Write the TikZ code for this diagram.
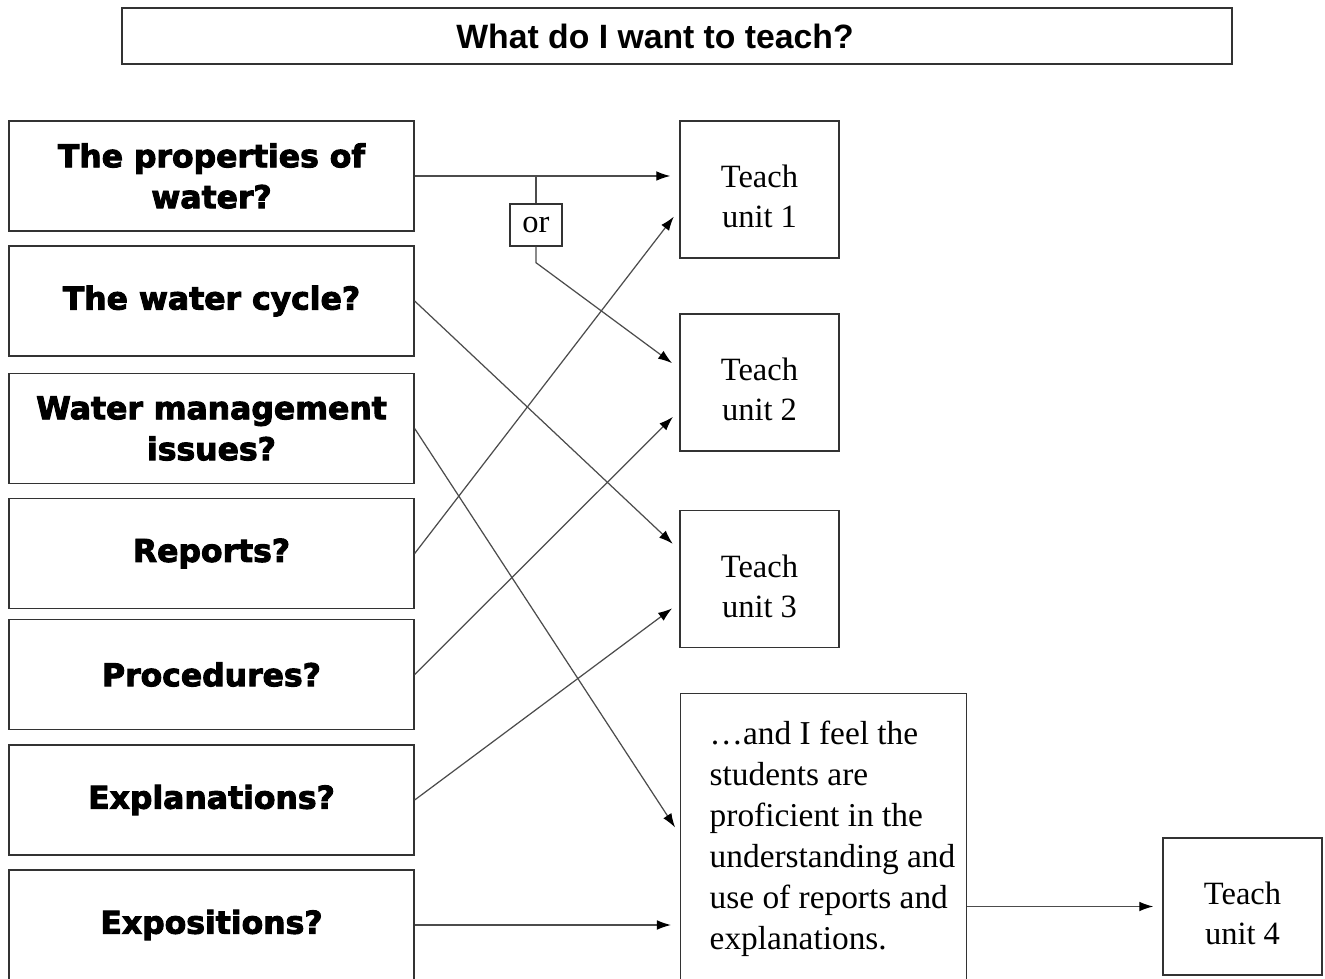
\documentclass[tikz,border=0pt]{standalone}
\usepackage{fontspec}
\setmainfont{Liberation Serif}
\newfontfamily\headfont{Liberation Sans}
\newfontfamily\heavyfont[BoldFeatures={FakeBold=3}]{DejaVu Sans}
\newcommand\tallline{\rule{0pt}{21pt}}
\usetikzlibrary{arrows.meta,calc}

\begin{document}
\begin{tikzpicture}[x=0.02cm,y=-0.02cm,>={Latex[length=8pt,width=5.5pt,black]},
  box/.style={draw=black!80,line width=0.8pt,inner sep=0pt},
  topic/.style={box,minimum width=8.1cm,minimum height=2.2cm,align=center,
    font=\heavyfont\bfseries\fontsize{17.9}{23.3}\selectfont},
  unit/.style={box,minimum width=3.18cm,minimum height=2.74cm,align=center,
    font=\fontsize{18.5}{22.8}\selectfont},
  link/.style={->,draw=black!70,line width=0.7pt,shorten >=0.18cm}]
\useasboundingbox (0,0) rectangle (1325,979);

\node[box,minimum width=22.2cm,minimum height=1.12cm,
  font=\headfont\bfseries\fontsize{19.2}{22}\selectfont](title) at (677,36) {What do I want to teach?\hspace*{0.88cm}};

\node[topic](b1) at (211.5,176) {The properties of\\water?};
\node[topic](b2) at (211.5,301) {The water cycle?};
\node[topic](b3) at (211.5,428.5) {Water management\\issues?};
\node[topic](b4) at (211.5,553.5) {Reports?};
\node[topic](b5) at (211.5,674.5) {Procedures?};
\node[topic](b6) at (211.5,800) {Explanations?};
\node[topic](b7) at (211.5,925) {Expositions?};

\node[unit](u1) at (759.5,189.5) {\tallline Teach\\unit 1};
\node[unit](u2) at (759.5,382.5) {\tallline Teach\\unit 2};
\node[unit](u3) at (759.5,579) {\tallline Teach\\unit 3};
\node[unit](u4) at (1242.5,906.5) {\tallline Teach\\unit 4};

\node[box,anchor=north west,inner xsep=0pt,inner ysep=0.55cm,
  text width=5.72cm,text depth=4.5cm,align=flush left,
  execute at begin node={\leftskip=0.58cm},
  font=\fontsize{19}{23.3}\selectfont](prof) at (680,693)
  {…and I feel the\\students are\\proficient in the\\understanding and\\use of reports and\\explanations.};

\node[box,minimum width=1.04cm,minimum height=0.84cm,
  font=\fontsize{18.5}{22}\selectfont](or) at (536,225) {or};
\coordinate (split) at (b1.east -| or.north);
\coordinate (bend) at ($(or.south)+(0,16)$);

\draw[link] (b1.east) -- (b1.east -| u1.west);
\draw[draw=black!70,line width=0.7pt] (split) -- (or.north);
\draw[link] (or.south) -- (bend) -- ($(u2.west)+(0,-14)$);
\draw[link] (b2.east) -- ($(u3.west)+(0,-29)$);
\draw[link] (b3.east) -- ($(prof.north west)+(0,142)$);
\draw[link] (b4.east) -- ($(u1.west)+(0,20)$);
\draw[link] (b5.east) -- ($(u2.west)+(0,28)$);
\draw[link] (b6.east) -- ($(u3.west)+(0,24)$);
\draw[link] (b7.east) -- (b7.east -| prof.west);
\draw[link] (prof.north east |- u4.west) -- (u4.west);
\end{tikzpicture}
\end{document}
